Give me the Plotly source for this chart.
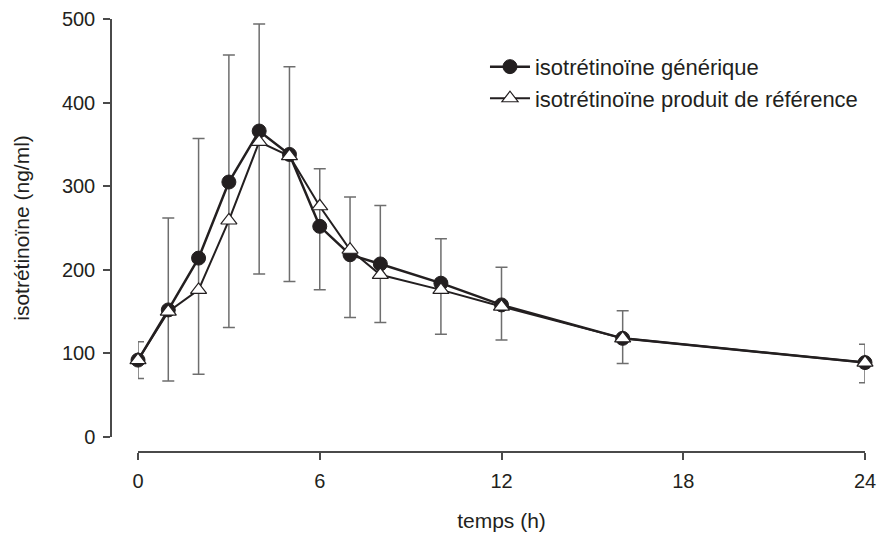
import plotly.graph_objects as go

# time points (h)
temps = [0, 1, 2, 3, 4, 5, 6, 7, 8, 10, 12, 16, 24]
# mean concentrations (ng/ml)
generique = [92, 152, 214, 305, 366, 338, 252, 218, 207, 184, 158, 118, 89]
reference = [92, 150, 176, 259, 353, 336, 276, 224, 194, 176, 156, 118, 89]
# error bar bounds (ng/ml)
err_haut = [114, 262, 357, 457, 494, 443, 321, 287, 277, 237, 203, 151, 111]
err_bas = [70, 67, 75, 131, 195, 186, 176, 143, 137, 123, 116, 88, 65]

x_ticks = [0, 6, 12, 18, 24]
y_ticks = [0, 100, 200, 300, 400, 500]

FONT = "Liberation Sans"
INK = "#231f20"
AX = "#4a4a4a"

fig = go.Figure()

# error bars (drawn beneath the series)
fig.add_trace(go.Scatter(
    x=temps, y=generique, mode="markers",
    marker=dict(size=1, opacity=0),
    error_y=dict(type="data", symmetric=False,
                 array=[h - g for h, g in zip(err_haut, generique)],
                 arrayminus=[g - b for g, b in zip(generique, err_bas)],
                 color="#6e6e6e", thickness=1.5, width=6),
    showlegend=False, hoverinfo="skip", cliponaxis=False,
))

fig.add_trace(go.Scatter(
    x=temps, y=generique, mode="lines+markers",
    name="isotrétinoïne générique",
    line=dict(color=INK, width=2.5),
    marker=dict(symbol="circle", size=14, color=INK, line=dict(color=INK, width=1)),
    cliponaxis=False,
))

fig.add_trace(go.Scatter(
    x=temps, y=reference, mode="lines+markers",
    name="isotrétinoïne produit de référence",
    line=dict(color=INK, width=2),
    marker=dict(symbol="triangle-up", size=14, color="white", line=dict(color=INK, width=1.2)),
    cliponaxis=False,
))

fig.update_layout(
    width=877, height=536,
    margin=dict(l=111, r=12, t=19, b=84, autoexpand=False),
    paper_bgcolor="white", plot_bgcolor="white",
    font=dict(family=FONT, size=20, color=INK),
    legend=dict(x=0.496, y=0.938, xanchor="left", yanchor="top",
                bgcolor="rgba(0,0,0,0)", font=dict(size=22, color=INK),
                traceorder="normal", itemwidth=40),
    xaxis=dict(domain=[27 / 754, 1], range=[0, 24], tickvals=x_ticks,
               ticks="outside", ticklen=7, tickwidth=1.5, tickcolor=AX,
               showline=True, linecolor=AX, linewidth=1.5,
               anchor="free", position=0, showgrid=False, zeroline=False,
               automargin=False, ticklabelstandoff=4,
               tickfont=dict(size=20),
               title=dict(text="temps (h)", standoff=22, font=dict(size=21))),
    yaxis=dict(domain=[15 / 433, 1], range=[0, 500], tickvals=y_ticks,
               ticks="outside", ticklen=7, tickwidth=1.5, tickcolor=AX,
               showline=True, linecolor=AX, linewidth=1.5,
               anchor="free", position=0, showgrid=False, zeroline=False,
               automargin=False, ticklabelstandoff=4,
               tickfont=dict(size=20),
               title=dict(text="isotrétinoïne (ng/ml)", standoff=26, font=dict(size=21))),
)

fig.write_html(
    "out.html",
    config={"displayModeBar": False},
    post_script="document.body.style.margin='0';document.body.style.overflow='hidden';",
)
